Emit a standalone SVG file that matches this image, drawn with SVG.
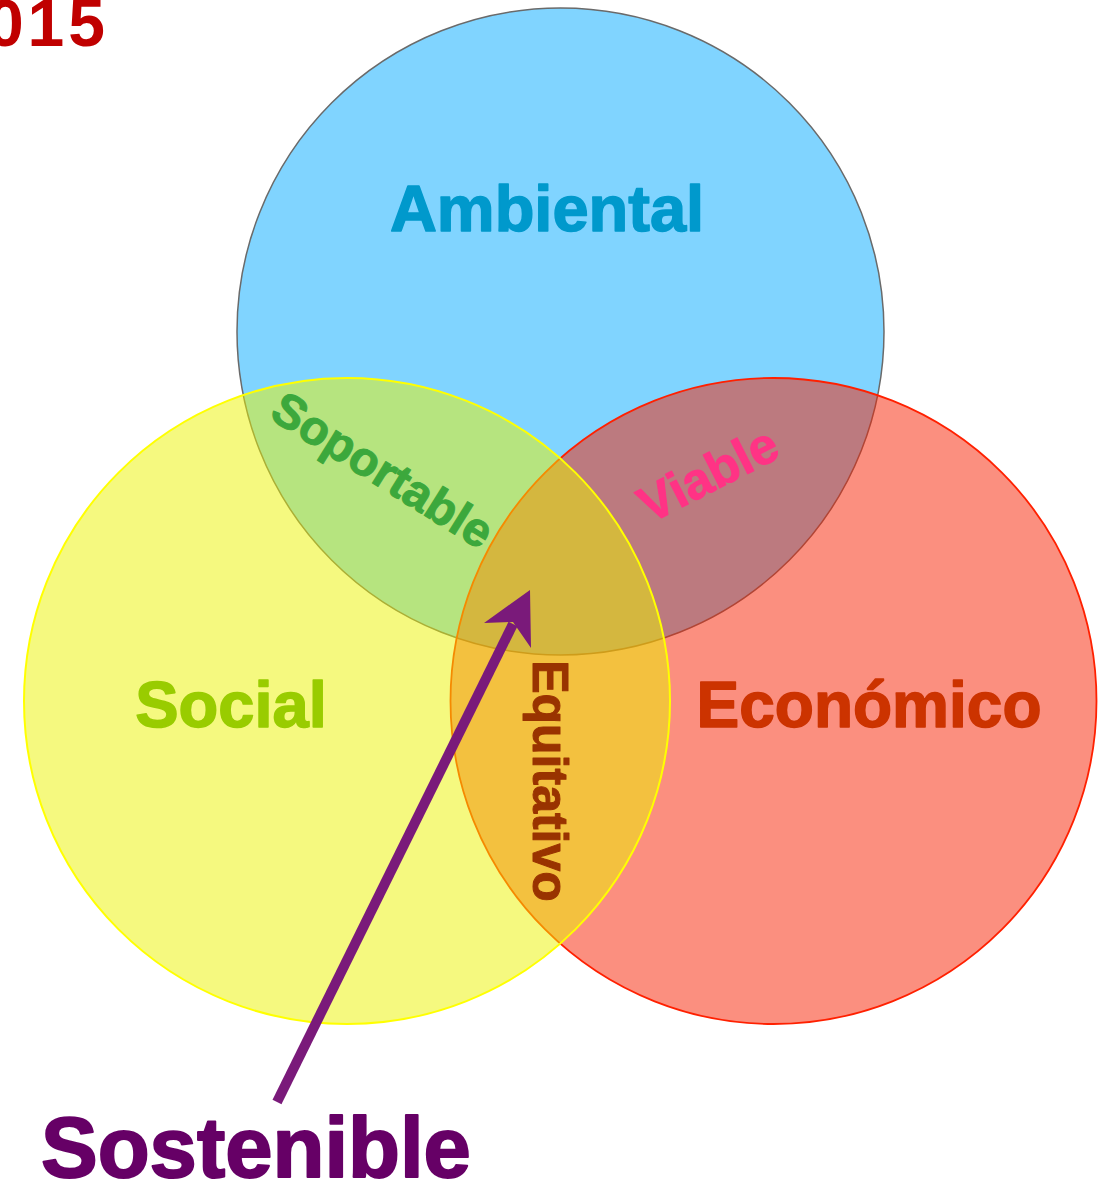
<svg xmlns="http://www.w3.org/2000/svg" width="1107" height="1187" viewBox="0 0 1107 1187">
<style>
  .lbl { font-family: "Liberation Sans", Arial, sans-serif; font-weight: bold; stroke-linejoin: round; }
  .circle-amb { fill: #80d4ff; stroke: #6a6a6a; stroke-width: 1.5; }
  .circle-eco { fill: #f82000; fill-opacity: 0.5; stroke: #ff2000; stroke-width: 1.8; }
  .circle-soc { fill: #ebf300; fill-opacity: 0.5; stroke: #ffff00; stroke-width: 2; }
</style>
<rect width="1107" height="1187" fill="#ffffff"/>
<text class="lbl" x="109" y="46" font-size="66" text-anchor="end" fill="#c00000" letter-spacing="4">015</text>
<g id="ambiental">
  <circle class="circle-amb" cx="560.5" cy="331.5" r="323.5"/>
  <text class="lbl" x="547" y="231" font-size="65" text-anchor="middle" fill="#0099cc" stroke="#0099cc" stroke-width="1.5">Ambiental</text>
</g>
<g id="economico">
  <circle class="circle-eco" cx="773.5" cy="701" r="323"/>
  <text class="lbl" x="869" y="727" font-size="64" text-anchor="middle" fill="#cc3300" stroke="#cc3300" stroke-width="1.5">Económico</text>
</g>
<g id="social">
  <circle class="circle-soc" cx="347" cy="701" r="323"/>
  <text class="lbl" x="231" y="727" font-size="65" text-anchor="middle" fill="#99cc00" stroke="#99cc00" stroke-width="1.5">Social</text>
</g>
<g id="soportable">
  <text class="lbl" transform="translate(374,484) rotate(32)" font-size="48" text-anchor="middle" fill="#3ca83c" stroke="#3ca83c" stroke-width="1">Soportable</text>
</g>
<g id="viable">
  <text class="lbl" transform="translate(716,490) rotate(-27)" font-size="51" text-anchor="middle" fill="#ff3385" stroke="#ff3385" stroke-width="1">Viable</text>
</g>
<g id="equitativo">
  <text class="lbl" transform="translate(533,781) rotate(90)" font-size="50" text-anchor="middle" fill="#993300" stroke="#993300" stroke-width="1">Equitativo</text>
</g>
<g id="connectors">
  <line x1="277" y1="1102" x2="513" y2="624" stroke="#7a1a7a" stroke-width="10"/>
  <polygon points="530,590 484,623 513,622 531,648" fill="#7a1a7a"/>
</g>
<g id="sostenible">
  <text class="lbl" x="41" y="1177" font-size="85" fill="#660066" stroke="#660066" stroke-width="2">Sostenible</text>
</g>
</svg>
